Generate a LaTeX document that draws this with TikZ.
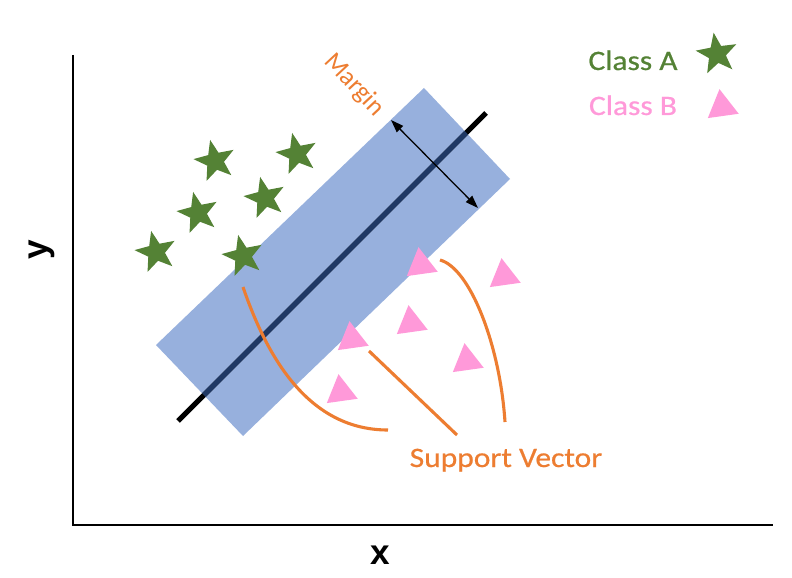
\documentclass[tikz,border=0pt]{standalone}
\usepackage{fontspec}
\setmainfont{Carlito}
\newfontfamily\legendfont[FakeStretch=1.12,FakeBold=0.6]{Carlito}
\newfontfamily\axisfont{Liberation Sans}
\usetikzlibrary{positioning,arrows.meta,shapes.geometric}

\definecolor{starGreen}{HTML}{548235}
\definecolor{triPink}{HTML}{FF99D9}
\definecolor{svOrange}{HTML}{ED7D31}
\definecolor{bandBlue}{HTML}{97B0DD}
\definecolor{lineNavy}{HTML}{1F3864}

\begin{document}
\begin{tikzpicture}[x=0.025cm, y=-0.025cm,
    classA/.style={star, star points=5, star point ratio=2.4, fill=starGreen, inner sep=0pt, minimum size=1.08cm, rotate=13},
    classB/.style={regular polygon, regular polygon sides=3, fill=triPink, inner sep=0pt, minimum size=0.9cm, rotate=8},
    svline/.style={svOrange, line width=2.2pt},
    legendtext/.style={font=\legendfont\fontsize{20}{24}\selectfont, anchor=base},
    axistext/.style={font=\axisfont\bfseries\fontsize{25}{28}\selectfont},
]
\fill[white] (0,0) rectangle (792,578);
\useasboundingbox (0,0) rectangle (792,578);

% axes
\coordinate (o) at (73,525);
\draw[line width=1pt] (73,55) -- (o) -- (773,525);
\node[axistext] (xlab) at (380,555) {x};
\node[axistext, rotate=90] (ylab) at (42,250) {y};

% margin band and separating line
\path[fill=bandBlue] (424,88) -- (510,179) -- (243,436) -- (156,345) -- cycle;
\coordinate (h1) at (178,421);
\coordinate (h2) at (486,113);
\draw[line width=3.6pt] (h1) -- (h2);
\begin{scope}
  \clip (424,88) -- (510,179) -- (243,436) -- (156,345) -- cycle;
  \draw[lineNavy, line width=3.6pt] (h1) -- (h2);
\end{scope}

\coordinate (m1) at (391,120);
\coordinate (m2) at (478,208);
\draw[line width=0.9pt, {Triangle[length=3.2mm,width=2.2mm]}-{Triangle[length=3.2mm,width=2.2mm]}] (m1) -- (m2);
\node[svOrange, font=\fontsize{18.5}{20}\selectfont, inner sep=1pt, rotate=-47] (margin) at (354,85) {Margin};

% class A
\node[classA] (a1) at (215,161) {};
\node[classA] (a2) at (297,154) {};
\node[classA] (a3) at (198,213) {};
\node[classA] (a4) at (265,198) {};
\node[classA] (a5) at (156,252) {};
\node[classA] (a6) at (243,256) {};

% class B
\node[classB] (b1) at (421,265) {};
\node[classB] (b2) at (504,276) {};
\node[classB] (b3) at (411,323) {};
\node[classB] (b4) at (352,339) {};
\node[classB] (b5) at (467,361) {};
\node[classB] (b6) at (341,392) {};

% support vectors
\draw[svline] (243,287) .. controls (268,360) and (310,430) .. (388,430);
\draw[svline] (369,351) -- (457,435);
\draw[svline] (440,260) .. controls (470,268) and (500,345) .. (505,422);
\node[legendtext, svOrange] (sv) at (506,467) {Support Vector};

% legend
\node[legendtext, starGreen] (la) at (633,70) {Class A};
\node[legendtext, triPink] (lb) at (633,115) {Class B};
\node[classA, rotate=-4] (sa) at (717,54) {};
\node[classB] (sb) at (722,107) {};
\end{tikzpicture}
\end{document}
